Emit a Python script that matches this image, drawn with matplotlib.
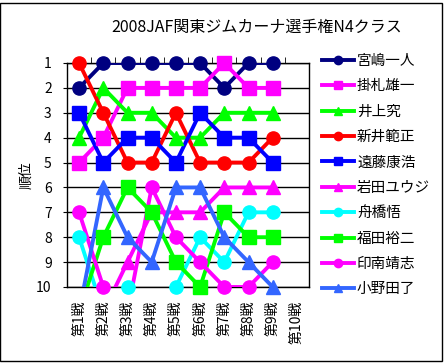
import numpy as np
import matplotlib
matplotlib.use("Agg")
import matplotlib.pyplot as plt
from matplotlib.lines import Line2D
from matplotlib.patches import Rectangle

plt.rcParams['font.family'] = ['Noto Sans CJK JP', 'DejaVu Sans']

rounds = ["第1戦", "第2戦", "第3戦", "第4戦", "第5戦", "第6戦", "第7戦", "第8戦", "第9戦", "第10戦"]
names = ["宮嶋一人", "掛札雄一", "井上究", "新井範正", "遠藤康浩",
         "岩田ユウジ", "舟橋悟", "福田裕二", "印南靖志", "小野田了"]
#順位 per round (11 = outside top 10, not drawn)
miyajima = [2, 1, 1, 1, 1, 1, 2, 1, 1]
kakefuda = [5, 4, 2, 2, 2, 2, 1, 2, 2]
inoue    = [4, 2, 3, 3, 4, 4, 3, 3, 3]
arai     = [1, 3, 5, 5, 3, 5, 5, 5, 4]
endo     = [3, 5, 4, 4, 5, 3, 4, 4, 5]
iwata    = [11, 11, 9, 7, 7, 7, 6, 6, 6]
funahashi = [8, 11, 10, 11, 10, 8, 9, 7, 7]
fukuda   = [11, 8, 6, 7, 9, 10, 7, 8, 8]
innami   = [7, 10, 11, 6, 8, 9, 10, 10, 9]
onoda    = [11, 6, 8, 9, 6, 6, 8, 9, 10]

series = [miyajima, kakefuda, inoue, arai, endo, iwata, funahashi, fukuda, innami, onoda]
colors = ["#000080", "#FF00FF", "#00FF00", "#FF0000", "#0000FF",
          "#FF00FF", "#00FFFF", "#00FF00", "#FF00FF", "#3366FF"]
markers = ["o", "s", "^", "o", "s", "^", "o", "s", "o", "^"]

fig = plt.figure(figsize=(4.45, 3.64), dpi=100)
ax = fig.add_axes([67/445, 1-287/364, 242/445, 224/364])

x = np.arange(1, len(miyajima) + 1)
for vals, c, m in zip(series, colors, markers):
    v = np.array(vals, dtype=float)
    ax.plot(x, v, color=c, lw=2.8, zorder=3)
    ok = v <= 10
    ax.plot(x[ok], v[ok], ls="none", marker=m, ms=9.5, color=c, clip_on=False, zorder=4)

ax.set_xlim(0.5, 10.5)
ax.set_ylim(10, 1)
ax.set_yticks(range(1, 11))
for yv in range(1, 11):
    ax.axhline(yv, color="black", lw=1, zorder=1)
ax.set_xticks(range(1, 11))
ax.set_xticklabels(rounds, rotation=90, va="top", fontsize=10)
ax.tick_params(axis="x", length=0, pad=10)
ax.set_xticks(np.arange(1.5, 10.5, 1), minor=True)
ax.tick_params(axis="x", which="minor", length=4, top=True, bottom=False, direction="out")
ax.tick_params(axis="y", length=3, labelsize=10, pad=8)
for s in ax.spines.values():
    s.set_linewidth(1)
ax.set_ylabel("順位", fontsize=10, labelpad=2)

fig.text(257/445, 1-27/364, "2008JAF関東ジムカーナ選手権N4クラス", ha="center", va="center", fontsize=11.5)

handles = [Line2D([], [], color=c, marker=m, lw=2.8, ms=6) for c, m in zip(colors, markers)]
fig.legend(handles, names, loc="upper left", bbox_to_anchor=(322/445, 1-54/364),
           frameon=False, fontsize=10.5, handlelength=2.2, handletextpad=0.2,
           labelspacing=0.78, borderpad=0, borderaxespad=0)

fig.patches.append(Rectangle((0, 3/364), 442/445, 358/364, transform=fig.transFigure,
                             fill=False, edgecolor="black", lw=1))
fig.savefig("out.png", dpi=100)
